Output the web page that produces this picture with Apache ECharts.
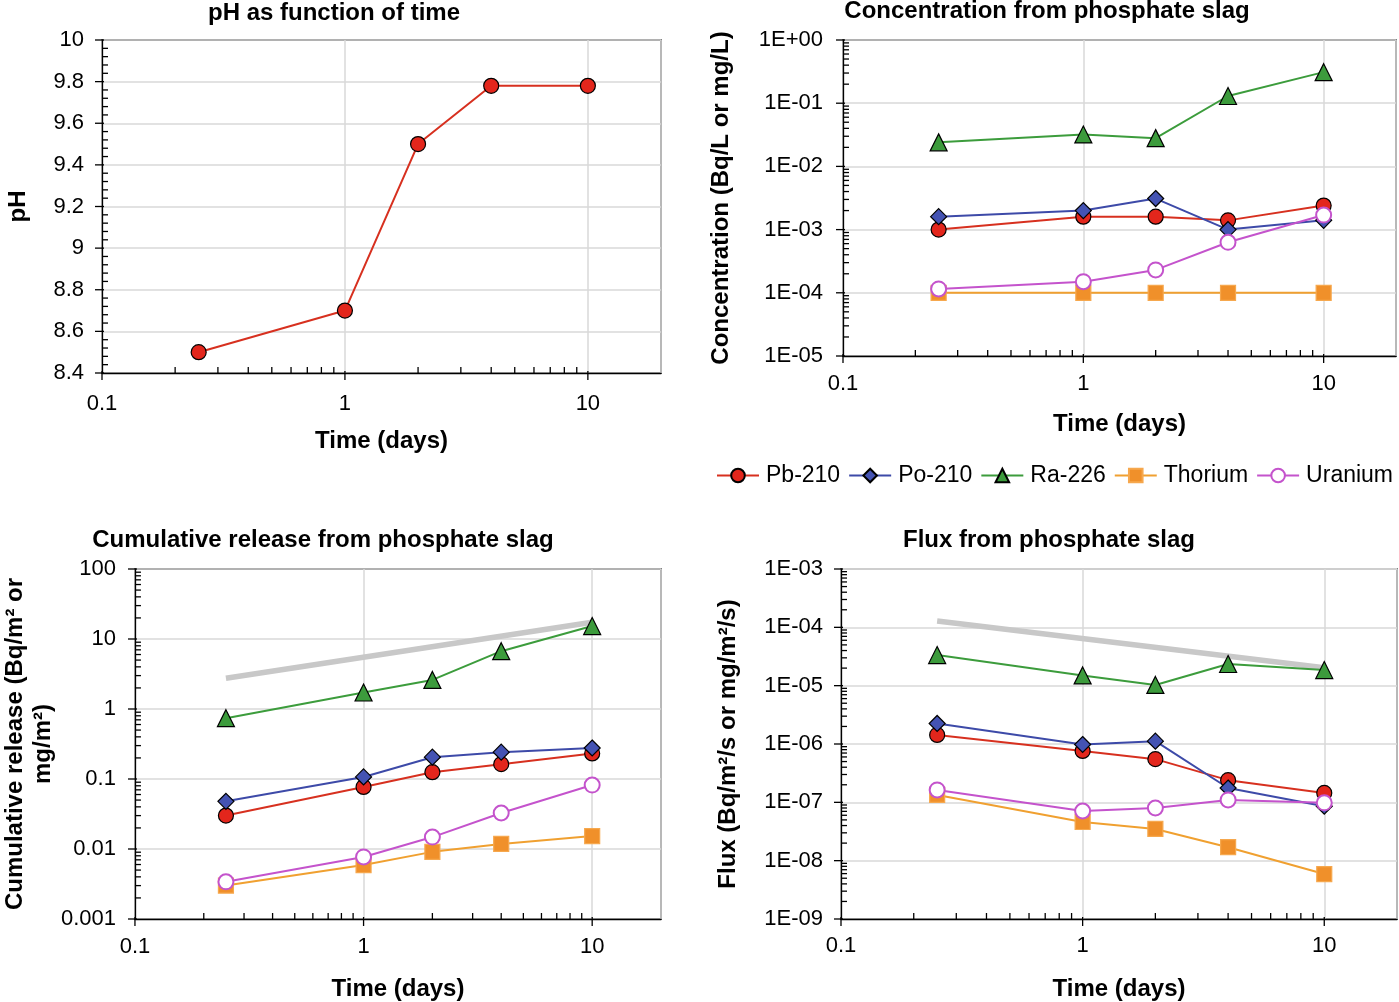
<!DOCTYPE html>
<html><head><meta charset="utf-8">
<script src="https://cdn.jsdelivr.net/npm/echarts@6/dist/echarts.min.js"></script>
<style>html,body{margin:0;padding:0;background:#fff}#c{width:1399px;height:1002px}</style>
</head><body><div id="c"></div><script>
// ---- data ----
const days = [0.25, 1, 2, 4, 10];
const phValues = [8.5, 8.7, 9.5, 9.78, 9.78];
const concPb = [1.0e-3, 1.6e-3, 1.6e-3, 1.4e-3, 2.4e-3];
const concPo = [1.6e-3, 2.0e-3, 3.1e-3, 1.0e-3, 1.4e-3];
const concRa = [0.024, 0.032, 0.028, 0.13, 0.31];
const concTh = [1e-4, 1e-4, 1e-4, 1e-4, 1e-4];
const concU = [1.15e-4, 1.5e-4, 2.3e-4, 6.3e-4, 1.7e-3];
const cumPb = [0.030, 0.077, 0.125, 0.163, 0.232];
const cumPo = [0.048, 0.107, 0.205, 0.242, 0.277];
const cumRa = [0.74, 1.72, 2.6, 6.7, 15.3];
const cumTh = [0.0030, 0.0059, 0.0091, 0.0118, 0.0153];
const cumU = [0.0034, 0.0077, 0.0148, 0.0327, 0.082];
const fluxPb = [1.43e-6, 7.6e-7, 5.5e-7, 2.4e-7, 1.45e-7];
const fluxPo = [2.25e-6, 9.8e-7, 1.12e-6, 1.76e-7, 8.6e-8];
const fluxRa = [3.35e-5, 1.5e-5, 1.03e-5, 2.35e-5, 1.85e-5];
const fluxTh = [1.34e-7, 4.6e-8, 3.5e-8, 1.7e-8, 5.9e-9];
const fluxU = [1.63e-7, 7.1e-8, 8.0e-8, 1.1e-7, 9.8e-8];
const refDays = [0.25, 10];
const refCum = [2.75, 17.4];
const refFlux = [1.28e-4, 2.02e-5];
const seriesNames = ['Pb-210', 'Po-210', 'Ra-226', 'Thorium', 'Uranium'];
const panelTitles = ['pH as function of time', 'Concentration from phosphate slag', 'Cumulative release from phosphate slag', 'Flux from phosphate slag'];
const xName = 'Time (days)';
const yNames = ['pH', 'Concentration (Bq/L or mg/L)', 'Cumulative release (Bq/m\u00B2 or\nmg/m\u00B2)', 'Flux (Bq/m\u00B2/s or mg/m\u00B2/s)'];
const xRange = [0.1, 20];
const xMajorTicks = [0.1, 1, 10];
const phRange = [8.4, 10];
const phMajorTicks = [8.4, 8.6, 8.8, 9.0, 9.2, 9.4, 9.6, 9.8, 10];
const concRange = [1e-5, 1];
const cumRange = [0.001, 100];
const fluxRange = [1e-9, 1e-3];

// ---- helpers ----
function logMinor(lo, hi) {
  const out = [];
  for (let e = Math.round(Math.log10(lo)); e < Math.round(Math.log10(hi)); e++) {
    for (let m = 2; m <= 9; m++) { const v = m * Math.pow(10, e); if (v < hi) out.push(v); }
  }
  return out;
}
function logMajor(lo, hi) {
  const out = [];
  for (let e = Math.round(Math.log10(lo)); e <= Math.round(Math.log10(hi)); e++) out.push(Math.pow(10, e));
  return out;
}
const xMinorTicks = logMinor(0.1, 10);
const phMinorTicks = [];
for (let i = 1; i < 40; i++) { if (i % 5 !== 0) phMinorTicks.push(8.4 + i * 0.04); }

const FONT = '"Liberation Sans", Arial, Helvetica, sans-serif';
const zip = (xs, ys) => xs.map((x, i) => [x, ys[i]]);
const sciFmt = v => { const e = Math.round(Math.log10(v)); return '1E' + (e >= 0 ? '+' : '-') + String(Math.abs(e)).padStart(2, '0'); };
const numFmt = v => String(Number(Number(v).toPrecision(3)));

const styles = {
  'Pb-210': { symbol: 'circle', size: 15, fill: '#e3261c', border: '#000', bw: 1.2, line: '#d7301f' },
  'Po-210': { symbol: 'diamond', size: 16, fill: '#4453b3', border: '#000', bw: 1.2, line: '#3d4aa8' },
  'Ra-226': { symbol: 'triangle', size: 17, fill: '#3c9b3c', border: '#000', bw: 1.2, line: '#3c9c3c' },
  'Thorium': { symbol: 'rect', size: 15, fill: '#f0902a', border: '#f6a84e', bw: 1.2, line: '#f0a030' },
  'Uranium': { symbol: 'circle', size: 15, fill: '#ffffff', border: '#c453cc', bw: 2, line: '#c453cc' }
};
function lineSeries(name, idx, xs, ys, legendName) {
  const s = styles[legendName];
  return {
    type: 'line', name: name, xAxisIndex: idx, yAxisIndex: idx, data: zip(xs, ys),
    symbol: s.symbol, symbolSize: s.size, showSymbol: true, z: 3,
    itemStyle: { color: s.fill, borderColor: s.border, borderWidth: s.bw },
    lineStyle: { color: s.line, width: 2 }, silent: true
  };
}
function refSeries(idx, ys) {
  return { type: 'line', name: 'ref', xAxisIndex: idx, yAxisIndex: idx, data: zip(refDays, ys),
    symbol: 'none', z: 2, lineStyle: { color: '#c8c8c8', width: 5.5 }, silent: true };
}
// tick marks: kind 0 = x major (outside), 1 = x minor (inside), 2 = y major (outside), 3 = y minor (inside)
function tickSeries(idx, yMinVal, yMajor, yMinor) {
  const data = [];
  xMajorTicks.forEach(v => data.push([v, yMinVal, 0]));
  xMinorTicks.forEach(v => data.push([v, yMinVal, 1]));
  yMajor.forEach(v => data.push([xRange[0], v, 2]));
  yMinor.forEach(v => data.push([xRange[0], v, 3]));
  return {
    type: 'custom', xAxisIndex: idx, yAxisIndex: idx, data: data, silent: true, z: 10, clip: false,
    renderItem: (params, api) => {
      const p = api.coord([api.value(0), api.value(1)]);
      const k = api.value(2);
      let sh;
      if (k === 0) sh = { x1: p[0], y1: p[1] - 2, x2: p[0], y2: p[1] + 7 };
      else if (k === 1) sh = { x1: p[0], y1: p[1], x2: p[0], y2: p[1] - 6 };
      else if (k === 2) sh = { x1: p[0] + 2, y1: p[1], x2: p[0] - 7, y2: p[1] };
      else sh = { x1: p[0], y1: p[1], x2: p[0] + 6, y2: p[1] };
      return { type: 'line', shape: sh, style: { stroke: '#000', lineWidth: 1.3 } };
    }
  };
}

const grids = [
  { left: 102, top: 40, width: 559, height: 333 },
  { left: 843, top: 40, width: 553, height: 316 },
  { left: 128, top: 569, width: 533, height: 350 },
  { left: 841, top: 569, width: 556, height: 350 }
].map(g => Object.assign({ show: true, borderColor: '#000', borderWidth: 1.3, containLabel: false }, g));

const TICKFS = 22;
const xLabelMargin = [20, 17, 17, 16];
const xNameGap = [56, 56, 58, 58];
const xAxes = grids.map((g, i) => ({
  type: 'log', logBase: 10, gridIndex: i, min: xRange[0], max: xRange[1],
  axisLine: { show: true, lineStyle: { color: '#000', width: 1.3 } },
  axisTick: { show: false },
  splitLine: { show: true, lineStyle: { color: '#d9d9d9', width: 1.5 } },
  axisLabel: { fontSize: TICKFS, color: '#000', fontFamily: FONT, margin: xLabelMargin[i], showMaxLabel: false, formatter: numFmt },
  name: xName, nameLocation: 'middle', nameGap: xNameGap[i],
  nameTextStyle: { fontSize: 24, fontWeight: 'bold', color: '#000', fontFamily: FONT }
}));

const yCommon = (i, gap) => ({
  gridIndex: i,
  axisLine: { show: true, lineStyle: { color: '#000', width: 1.3 } },
  axisTick: { show: false },
  splitLine: { show: true, lineStyle: { color: '#d9d9d9', width: 1.5 } },
  name: yNames[i], nameLocation: 'middle', nameGap: gap,
  nameTextStyle: { fontSize: 24, fontWeight: 'bold', color: '#000', fontFamily: FONT, lineHeight: 28 }
});
const yAxes = [
  Object.assign(yCommon(0, 70), { type: 'value', min: phRange[0], max: phRange[1], interval: 0.2,
    axisLabel: { fontSize: TICKFS, color: '#000', fontFamily: FONT, margin: 18, formatter: v => String(Number(v.toFixed(1))) } }),
  Object.assign(yCommon(1, 108), { type: 'log', logBase: 10, min: concRange[0], max: concRange[1],
    axisLabel: { fontSize: TICKFS, color: '#000', fontFamily: FONT, margin: 20, formatter: sciFmt } }),
  Object.assign(yCommon(2, 74), { type: 'log', logBase: 10, min: cumRange[0], max: cumRange[1],
    axisLabel: { fontSize: TICKFS, color: '#000', fontFamily: FONT, margin: 19, formatter: numFmt } }),
  Object.assign(yCommon(3, 99), { type: 'log', logBase: 10, min: fluxRange[0], max: fluxRange[1],
    axisLabel: { fontSize: TICKFS, color: '#000', fontFamily: FONT, margin: 18, formatter: sciFmt } })
];

const series = [];
series.push(lineSeries('pH', 0, days, phValues, 'Pb-210'));
const concData = [concPb, concPo, concRa, concTh, concU];
const cumData = [cumPb, cumPo, cumRa, cumTh, cumU];
const fluxData = [fluxPb, fluxPo, fluxRa, fluxTh, fluxU];
series.push(refSeries(2, refCum));
series.push(refSeries(3, refFlux));
seriesNames.forEach((n, k) => series.push(lineSeries(n, 1, days, concData[k], n)));
seriesNames.forEach((n, k) => series.push(lineSeries(n, 2, days, cumData[k], n)));
seriesNames.forEach((n, k) => series.push(lineSeries(n, 3, days, fluxData[k], n)));
series.push(tickSeries(0, phRange[0], phMajorTicks, phMinorTicks));
series.push(tickSeries(1, concRange[0], logMajor(concRange[0], concRange[1]), logMinor(concRange[0], concRange[1])));
series.push(tickSeries(2, cumRange[0], logMajor(cumRange[0], cumRange[1]), logMinor(cumRange[0], cumRange[1])));
series.push(tickSeries(3, fluxRange[0], logMajor(fluxRange[0], fluxRange[1]), logMinor(fluxRange[0], fluxRange[1])));

const titlePos = [[334, 13], [1047, 11], [323, 540], [1049, 540]];
const graphic = panelTitles.map((t, i) => ({
  type: 'text', x: titlePos[i][0], y: titlePos[i][1], silent: true,
  style: { text: t, font: 'bold 24px ' + FONT, fill: '#000', align: 'center', verticalAlign: 'middle', textAlign: 'center', textVerticalAlign: 'middle' }
}));

const chart = echarts.init(document.getElementById('c'), null, { renderer: 'canvas' });
chart.setOption({
  animation: false,
  backgroundColor: '#fff',
  textStyle: { fontFamily: FONT },
  grid: grids, xAxis: xAxes, yAxis: yAxes, series: series, graphic: graphic,
  legend: {
    data: seriesNames, left: 716, top: 464, width: 760, padding: 0, itemWidth: 42, itemHeight: 17, itemGap: 8,
    textStyle: { fontSize: 23, color: '#000', fontFamily: FONT, padding: [0, 0, 0, 2] }, selectedMode: false
  }
});
</script></body></html>
